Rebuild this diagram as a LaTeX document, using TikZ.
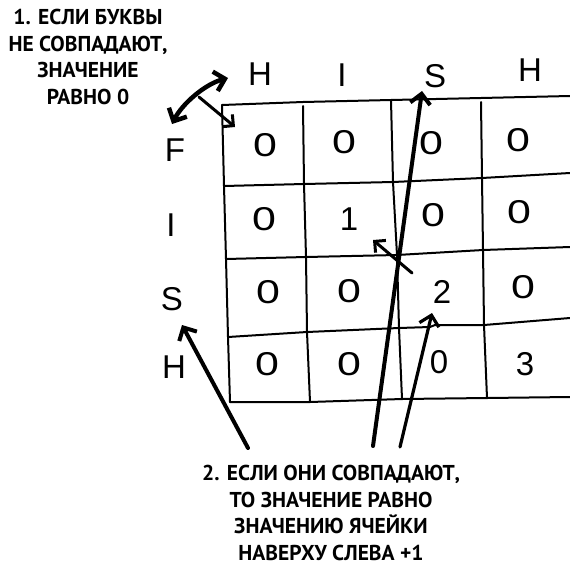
\documentclass[tikz,border=0pt]{standalone}
\usepackage{fontspec}
\setmainfont{PT Sans}
\newfontfamily\hand{Liberation Sans}
\usetikzlibrary{arrows.meta}
\tikzset{
  gridline/.style={line width=2pt, line join=round, line cap=round},
  barb/.tip={Straight Barb[length=10pt,width=20pt]},
  bigarrow/.style={line width=4pt, line cap=round, -barb},
  medarrow/.style={line width=3pt, line cap=round, -{Straight Barb[length=8pt,width=16pt]}},
  lbl/.style={font=\hand\fontsize{33}{33}\selectfont, inner sep=0pt},
  num/.style={font=\hand\fontsize{33}{33}\selectfont, inner sep=0pt},
  zero/.style={num, xscale=1.3},
  caption/.style={font=\bfseries\fontsize{21.5}{26.5}\selectfont, align=center, inner sep=0pt}
}
\begin{document}
\begin{tikzpicture}[x=1pt,y=-1pt]
\useasboundingbox (0,0) rectangle (570,565);
% grid rows
\draw[gridline] (222,105) -- (303,102) -- (391,100) -- (481,98) -- (570,96);
\draw[gridline] (224,186) -- (304,184) -- (393,182) -- (482,178) -- (570,173);
\draw[gridline] (226,259) -- (306,257) -- (397,255) -- (483,250) -- (570,247);
\draw[gridline] (228,337) -- (307,332) -- (399,328) -- (430,327) -- (435,325) -- (484,325) -- (570,318);
\draw[gridline] (230,402) -- (310,402) -- (402,399) -- (487,398) -- (570,397);
% grid columns
\draw[gridline] (222,105) -- (224,186) -- (226,259) -- (228,337) -- (230,402);
\draw[gridline] (303,106) -- (304,184) -- (306,257) -- (307,332) -- (310,402);
\draw[gridline] (391,100) -- (393,182) -- (397,255) -- (399,328) -- (402,399);
\draw[gridline] (481,102) -- (482,178) -- (483,250) -- (484,325) -- (487,398);
% column labels
\node[lbl] (cH1) at (260,74) {H};
\node[lbl] (cI)  at (342,75) {I};
\node[lbl] (cS)  at (435,76) {S};
\node[lbl] (cH2) at (530,70) {H};
% row labels
\node[lbl] (rF) at (175,150) {F};
\node[lbl] (rI) at (171,225) {I};
\node[lbl] (rS) at (172,299) {S};
\node[lbl] (rH) at (174,367) {H};
% cells
\node[zero] (v11) at (265,145) {0};
\node[zero] (v12) at (344,142) {0};
\node[zero] (v13) at (431,143) {0};
\node[zero] (v14) at (518,140) {0};
\node[zero] (v21) at (264,219) {0};
\node[num]  (v22) at (349,219) {1};
\node[zero] (v23) at (433,215) {0};
\node[zero] (v24) at (519,212) {0};
\node[zero] (v31) at (268,292) {0};
\node[zero] (v32) at (349,291) {0};
\node[num]  (v33) at (442,292) {2};
\node[zero] (v34) at (523,287) {0};
\node[zero] (v41) at (267,364) {0};
\node[zero] (v42) at (349,364) {0};
\node[num]  (v43) at (439,362) {0};
\node[num]  (v44) at (525,364) {3};
% captions
\node[caption] (t1) at (88,57) {1. ЕСЛИ БУКВЫ\\НЕ СОВПАДАЮТ,\\ЗНАЧЕНИЕ\\РАВНО 0};
\node[caption] (t2) at (331,513) {2. ЕСЛИ ОНИ СОВПАДАЮТ,\\ТО ЗНАЧЕНИЕ РАВНО\\ЗНАЧЕНИЮ ЯЧЕЙКИ\\НАВЕРХУ СЛЕВА +1};
% arrow end points
\coordinate (a1s) at (172,124);
\coordinate (a1e) at (228,78);
\coordinate (a2s) at (199,97);
\coordinate (a2e) at (235,127);
\coordinate (b3s) at (373,446);
\coordinate (b3e) at (422,91);
\coordinate (b4s) at (400,447);
\coordinate (b4e) at (432,313);
\coordinate (b5s) at (248,448);
\coordinate (b5e) at (182,325);
\coordinate (b6s) at (412,273);
\coordinate (b6e) at (373,240);
% arrows
\draw[line width=4.5pt, line cap=round, barb-barb] (a1s) .. controls (182,104) and (205,84) .. (a1e);
\draw[medarrow] (a2s) -- (a2e);
\draw[bigarrow] (b3s) -- (b3e);
\draw[line width=3.2pt, line cap=round, -barb] (b4s) -- (b4e);
\draw[bigarrow] (b5s) -- (b5e);
\draw[medarrow] (b6s) -- (b6e);
\end{tikzpicture}
\end{document}
